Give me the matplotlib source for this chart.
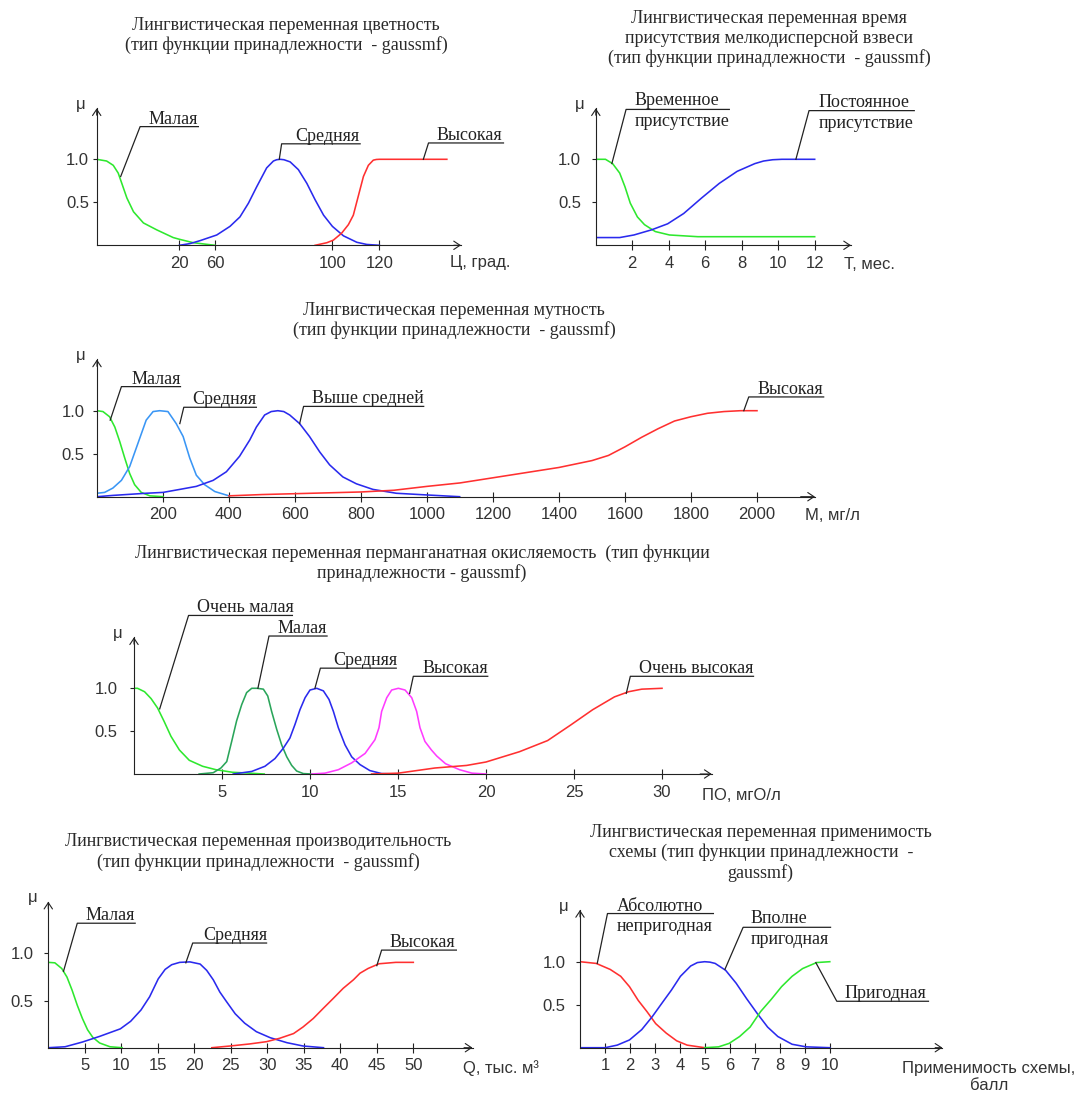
import numpy as np
import matplotlib.pyplot as plt

W, H = 1078, 1093
SERIF = 'Liberation Serif'
SANS = 'Liberation Sans'
INK = '#222222'
GREEN = '#2ee82e'
BLUE = '#2a2aee'
RED = '#ff3030'
LBLUE = '#3a96f5'
DGREEN = '#2aa55a'
MAGENTA = '#ff3cff'

# ---- panel 1: цветность (non-uniform x axis) ----
p1_ticks = [20, 60, 100, 120]
p1_small_x = [0, 2.4, 4.0, 5.2, 6.0, 7.3, 8.9, 11.3, 14.5, 18.5, 20, 35.7, 60]
p1_small_y = [1.0, 0.98, 0.93, 0.84, 0.73, 0.55, 0.39, 0.26, 0.18, 0.09, 0.07, 0.03, 0.0]
p1_mid_x = [20, 32, 43.2, 60.6, 65.1, 68.5, 71.4, 74.2, 77.6, 79.9, 81.0, 82.2, 83.5, 85.6, 88.4,
            91.3, 94.1, 97.0, 100, 104.7, 110.4, 114.6, 120]
p1_mid_y = [0, 0.02, 0.054, 0.12, 0.22, 0.33, 0.49, 0.68, 0.90, 0.98, 0.995, 1.0, 0.995, 0.97, 0.88,
            0.72, 0.53, 0.35, 0.22, 0.11, 0.035, 0.01, 0]
p1_high_x = [94.1, 98.1, 100.4, 103.9, 106.8, 108.9, 111.0, 113.2, 115.3, 117.4, 118.7, 120, 148.7]
p1_high_y = [0, 0.03, 0.06, 0.14, 0.24, 0.35, 0.57, 0.80, 0.93, 0.99, 0.998, 1.0, 1.0]
# value -> pixel offset knots
p1_knot_val = [0, 20, 60, 100, 120, 200]
p1_knot_pos = [0, 82.7, 118.3, 235.7, 282.7, 470.7]

# ---- panel 2: время присутствия ----
p2_ticks = [2, 4, 6, 8, 10, 12]
p2_temp_x = [0, 0.53, 0.92, 1.31, 1.6, 1.89, 2.28, 2.67, 3.26, 4.04, 5.6, 12]
p2_temp_y = [1.0, 1.0, 0.95, 0.84, 0.68, 0.49, 0.33, 0.24, 0.16, 0.12, 0.10, 0.10]
p2_perm_x = [0, 1.31, 2.09, 3.06, 3.94, 4.82, 5.8, 6.77, 7.75, 8.72, 9.2, 9.7, 10.2, 12]
p2_perm_y = [0.09, 0.09, 0.12, 0.18, 0.25, 0.37, 0.55, 0.72, 0.86, 0.95, 0.98, 0.995, 1.0, 1.0]

# ---- panel 3: мутность ----
p3_ticks = [200, 400, 600, 800, 1000, 1200, 1400, 1600, 1800, 2000]
p3_small_x = [0, 18, 38, 54, 69, 84, 99, 114, 134, 160, 200]
p3_small_y = [1.0, 0.99, 0.93, 0.81, 0.64, 0.45, 0.27, 0.14, 0.05, 0.01, 0]
p3_mid_x = [0, 23, 48, 74, 99, 124, 149, 170, 190, 215, 240, 261, 281, 301, 326, 357, 400]
p3_mid_y = [0.04, 0.05, 0.10, 0.19, 0.35, 0.62, 0.89, 0.99, 1.0, 0.99, 0.85, 0.70, 0.45,
            0.25, 0.14, 0.06, 0.01]
p3_above_x = [0, 48, 149, 200, 251, 301, 352, 392, 432, 463, 483, 508, 528, 548, 566, 584, 614,
              644, 675, 705, 745, 786, 836, 907, 1001, 1099]
p3_above_y = [0.0, 0.015, 0.04, 0.05, 0.085, 0.12, 0.19, 0.29, 0.47, 0.66, 0.81, 0.95, 0.99,
              1.0, 0.99, 0.95, 0.85, 0.70, 0.52, 0.37, 0.23, 0.15, 0.085, 0.04, 0.02, 0.0]
p3_high_x = [400, 500, 600, 700, 800, 900, 1000, 1100, 1200, 1300, 1400, 1500, 1550, 1600,
             1650, 1700, 1750, 1800, 1850, 1900, 1950, 2000]
p3_high_y = [0.01, 0.025, 0.035, 0.045, 0.055, 0.075, 0.12, 0.16, 0.22, 0.28, 0.34, 0.42,
             0.48, 0.58, 0.69, 0.79, 0.88, 0.93, 0.97, 0.99, 1.0, 1.0]

# ---- panel 4: перманганатная окисляемость ----
p4_ticks = [5, 10, 15, 20, 25, 30]
p4_vsmall_x = [0, 0.2, 0.6, 0.97, 1.34, 1.72, 2.1, 2.58, 3.14, 3.9, 4.66, 5.6, 6.55, 7.4]
p4_vsmall_y = [1.0, 1.0, 0.96, 0.88, 0.77, 0.61, 0.44, 0.28, 0.16, 0.09, 0.05, 0.02, 0.01, 0.0]
p4_small_x = [3.7, 4.5, 4.94, 5.27, 5.55, 5.83, 6.12, 6.4, 6.69, 7.0, 7.35, 7.6, 7.82, 8.11,
              8.39, 8.68, 8.96, 9.24, 9.62, 10.1]
p4_small_y = [0, 0.015, 0.07, 0.145, 0.38, 0.62, 0.81, 0.95, 1.0, 1.0, 0.99, 0.91, 0.73, 0.52,
              0.34, 0.2, 0.1, 0.035, 0.005, 0]
p4_mid_x = [5.64, 6.69, 7.44, 8.01, 8.48, 8.86, 9.15, 9.43, 9.72, 10.0, 10.38, 10.76, 11.08,
            11.33, 11.61, 11.99, 12.37, 12.84, 13.4, 14.07, 15.0]
p4_mid_y = [0, 0.03, 0.09, 0.18, 0.3, 0.42, 0.58, 0.75, 0.89, 0.98, 1.0, 0.97, 0.87, 0.73,
            0.54, 0.34, 0.2, 0.11, 0.04, 0.005, 0]
p4_high_x = [10.1, 10.85, 11.61, 12.37, 13.13, 13.69, 13.92, 14.07, 14.36, 14.64, 15.02, 15.4,
             15.78, 16.06, 16.25, 16.53, 16.9, 17.2, 17.7, 18.5, 19.2, 20]
p4_high_y = [0, 0.01, 0.05, 0.13, 0.24, 0.4, 0.54, 0.73, 0.89, 0.98, 1.0, 0.98, 0.89, 0.73,
             0.54, 0.38, 0.28, 0.21, 0.12, 0.05, 0.01, 0]
p4_vhigh_x = [13.5, 15.02, 17.1, 18.9, 20, 21.9, 23.5, 24.8, 26.06, 27.3, 28.1, 28.85, 30]
p4_vhigh_y = [0, 0.01, 0.07, 0.1, 0.14, 0.26, 0.39, 0.57, 0.75, 0.90, 0.96, 0.99, 1.0]

# ---- panel 5: производительность ----
p5_ticks = [5, 10, 15, 20, 25, 30, 35, 40, 45, 50]
p5_small_x = [0, 0.9, 1.84, 2.55, 3.26, 3.97, 4.67, 5.38, 6.09, 7.03, 8.45, 10.1]
p5_small_y = [0.905, 0.9, 0.84, 0.75, 0.61, 0.45, 0.31, 0.19, 0.11, 0.05, 0.01, 0]
p5_mid_x = [0, 2.3, 4.67, 7.03, 9.87, 11.28, 12.7, 13.88, 15.06, 16.0, 16.9, 18.0, 19.4, 20.8,
            21.7, 22.6, 23.5, 24.4, 25.6, 26.9, 28.5, 30.4, 32.7, 34.9, 37.7]
p5_mid_y = [0, 0.01, 0.06, 0.12, 0.2, 0.28, 0.4, 0.54, 0.73, 0.83, 0.88, 0.905, 0.91, 0.887,
            0.82, 0.72, 0.59, 0.49, 0.36, 0.26, 0.17, 0.106, 0.053, 0.018, 0]
p5_high_x = [22.4, 24.9, 27.6, 29.9, 31.7, 33.6, 34.9, 36.3, 37.7, 39.0, 40.4, 41.8, 42.7,
             43.8, 45.3, 47.6, 50]
p5_high_y = [0, 0.018, 0.04, 0.064, 0.1, 0.15, 0.22, 0.31, 0.42, 0.52, 0.63, 0.72, 0.79,
             0.84, 0.89, 0.905, 0.905]

# ---- panel 6: применимость схемы ----
p6_ticks = [1, 2, 3, 4, 5, 6, 7, 8, 9, 10]
p6_bad_x = [0, 0.65, 1.21, 1.63, 1.98, 2.33, 2.68, 3.03, 3.45, 3.87, 4.29, 4.99]
p6_bad_y = [1.0, 0.98, 0.91, 0.83, 0.71, 0.55, 0.42, 0.28, 0.17, 0.08, 0.03, 0]
p6_fine_x = [0, 1.0, 1.49, 1.98, 2.47, 2.89, 3.31, 3.66, 4.02, 4.43, 4.7, 4.99, 5.2, 5.41, 5.83,
             6.25, 6.67, 7.09, 7.51, 7.92, 8.49, 9.05, 10]
p6_fine_y = [0, 0.0, 0.03, 0.09, 0.21, 0.36, 0.53, 0.67, 0.83, 0.95, 0.99, 1.0, 0.995, 0.98,
             0.90, 0.75, 0.57, 0.40, 0.24, 0.13, 0.04, 0.01, 0]
p6_good_x = [4.99, 5.55, 5.97, 6.39, 6.81, 7.23, 7.65, 8.07, 8.49, 8.91, 9.47, 10]
p6_good_y = [0, 0.01, 0.05, 0.13, 0.24, 0.42, 0.56, 0.71, 0.83, 0.92, 0.99, 1.0]

fig = plt.figure(figsize=(W / 100, H / 100), dpi=100)


def make_panel(ox, oy, x_end, y_top, xppu, yppu, ticks, ylab_pad, knots=None):
    ax = fig.add_axes([ox / W, 1 - oy / H, (x_end - ox) / W, (oy - y_top) / H])
    if knots is not None:
        vals, pos = knots
        ax.set_xscale('function', functions=(lambda v: np.interp(v, vals, pos),
                                             lambda p: np.interp(p, pos, vals)))
        xmax = np.interp(x_end - ox, pos, vals)
    else:
        xmax = (x_end - ox) / xppu
    ax.set_xlim(0, xmax)
    ax.set_ylim(0, (oy - y_top) / yppu)
    ax.patch.set_alpha(0)
    for s in ('top', 'right'):
        ax.spines[s].set_visible(False)
    for s in ('left', 'bottom'):
        ax.spines[s].set_color(INK)
        ax.spines[s].set_linewidth(0.8)
    ax.set_xticks(ticks)
    ax.set_xticklabels([str(t) for t in ticks])
    ax.set_yticks([0.5, 1.0])
    ax.set_yticklabels(['0.5', '1.0'])
    ax.tick_params(axis='x', direction='inout', length=6.5, width=0.8, color=INK, pad=4.5,
                   labelsize=12, labelcolor='#333333')
    ax.tick_params(axis='y', direction='out', length=3, width=0.8, color=INK, pad=ylab_pad,
                   labelsize=12, labelcolor='#333333')
    for lab in ax.get_xticklabels() + ax.get_yticklabels():
        lab.set_fontfamily(SANS)
    arrow = dict(arrowstyle='->,head_length=0.45,head_width=0.3', color=INK, lw=0.8,
                 shrinkA=0, shrinkB=0)
    ax.annotate('', xy=(1, 0), xytext=(0.98, 0), xycoords='axes fraction', arrowprops=arrow,
                annotation_clip=False)
    ax.annotate('', xy=(0, 1), xytext=(0, 0.95), xycoords='axes fraction', arrowprops=arrow,
                annotation_clip=False)
    ax.annotate('μ', xy=(0, 1), xycoords='axes fraction', xytext=(-16, 4),
                textcoords='offset pixels', ha='center', va='center', fontsize=12,
                fontfamily=SANS, color='#333333', annotation_clip=False)
    return ax


def axis_name(ax, text, dx, dy, va='center'):
    ax.annotate(text, xy=(1, 0), xycoords='axes fraction', xytext=(dx, dy),
                textcoords='offset pixels', ha='left', va=va, multialignment='center',
                fontsize=12, fontfamily=SANS, color='#333333', annotation_clip=False)


def callout(ax, lines, start, corner, x_end, text_x, up=3, down=-17):
    ax.plot([start[0], corner[0], x_end], [start[1], corner[1], corner[1]],
            color=INK, lw=0.9, clip_on=False)
    ax.annotate(lines[0], xy=(text_x, corner[1]), xytext=(0, up), textcoords='offset pixels',
                ha='left', va='baseline', fontsize=13, fontfamily=SERIF, color=INK,
                annotation_clip=False)
    if len(lines) > 1:
        ax.annotate(lines[1], xy=(text_x, corner[1]), xytext=(0, down),
                    textcoords='offset pixels', ha='left', va='baseline', fontsize=13,
                    fontfamily=SERIF, color=INK, annotation_clip=False)


def title(lines, cx, baselines):
    for line, y in zip(lines, baselines):
        fig.text(cx / W, 1 - y / H, line, ha='center', va='baseline', fontsize=13,
                 fontfamily=SERIF, color='#2a2a2a')


LW = 1.15

# panel 1
ax1 = make_panel(96.7, 245.3, 461, 108.3, None, 86, p1_ticks, 2.5,
                 knots=(p1_knot_val, p1_knot_pos))
ax1.plot(p1_small_x, p1_small_y, color=GREEN, lw=LW)
ax1.plot(p1_mid_x, p1_mid_y, color=BLUE, lw=LW)
ax1.plot(p1_high_x, p1_high_y, color=RED, lw=LW)
callout(ax1, ['Малая'], (5.8, 0.80), (10.5, 1.38), 41.3, 12.5)
callout(ax1, ['Средняя'], (81.9, 1.0), (82.7, 1.18), 111.8, 87.2)
callout(ax1, ['Высокая'], (138.7, 1.0), (140.9, 1.19), 172.8, 144.5)
axis_name(ax1, 'Ц, град.', -11, -17)
title(['Лингвистическая переменная цветность',
       '(тип функции принадлежности  - gaussmf)'], 286, [30, 50])

# panel 2
ax2 = make_panel(595.8, 245.3, 851, 108.3, 18.24, 86, p2_ticks, 7.5)
ax2.plot(p2_temp_x, p2_temp_y, color=GREEN, lw=LW)
ax2.plot(p2_perm_x, p2_perm_y, color=BLUE, lw=LW)
callout(ax2, ['Временное', 'присутствие'], (0.88, 0.95), (1.66, 1.58), 7.32, 2.13, up=4)
callout(ax2, ['Постоянное', 'присутствие'], (10.97, 1.0), (11.69, 1.566), 17.46, 12.2, up=4)
axis_name(ax2, 'Т, мес.', -7, -19)
title(['Лингвистическая переменная время',
       'присутствия мелкодисперсной взвеси',
       '(тип функции принадлежности  - gaussmf)'], 769, [23.3, 43.3, 63.3])

# panel 3
ax3 = make_panel(97, 496.7, 815, 359.5, 0.33, 86, p3_ticks, 6)
ax3.plot(p3_small_x, p3_small_y, color=GREEN, lw=LW)
ax3.plot(p3_mid_x, p3_mid_y, color=LBLUE, lw=LW)
ax3.plot(p3_above_x, p3_above_y, color=BLUE, lw=LW)
ax3.plot(p3_high_x, p3_high_y, color=RED, lw=LW)
callout(ax3, ['Малая'], (40, 0.89), (74, 1.28), 253, 104)
callout(ax3, ['Средняя'], (251, 0.85), (263, 1.04), 483, 289)
callout(ax3, ['Выше средней'], (614, 0.85), (626, 1.05), 990, 652)
callout(ax3, ['Высокая'], (1960, 1.0), (1975, 1.16), 2202, 2003)
axis_name(ax3, 'М, мг/л', -10, -19)
title(['Лингвистическая переменная мутность',
       '(тип функции принадлежности  - gaussmf)'], 454, [315, 335])

# panel 4
ax4 = make_panel(134, 774, 711.7, 637.3, 17.6, 85.7, p4_ticks, 9)
ax4.plot(p4_vsmall_x, p4_vsmall_y, color=GREEN, lw=LW)
ax4.plot(p4_small_x, p4_small_y, color=DGREEN, lw=LW)
ax4.plot(p4_mid_x, p4_mid_y, color=BLUE, lw=LW)
ax4.plot(p4_high_x, p4_high_y, color=MAGENTA, lw=LW)
ax4.plot(p4_vhigh_x, p4_vhigh_y, color=RED, lw=LW)
callout(ax4, ['Очень малая'], (1.46, 0.76), (3.1, 1.85), 9.0, 3.6)
callout(ax4, ['Малая'], (7.04, 1.0), (7.67, 1.61), 10.97, 8.18)
callout(ax4, ['Средняя'], (10.28, 1.0), (10.59, 1.235), 14.9, 11.3)
callout(ax4, ['Высокая'], (15.66, 0.94), (15.87, 1.14), 20.1, 16.4)
callout(ax4, ['Очень высокая'], (27.97, 0.94), (28.2, 1.14), 35.2, 28.7)
axis_name(ax4, 'ПО, мгО/л', -10, -21)
title(['Лингвистическая переменная перманганатная окисляемость  (тип функции',
       'принадлежности - gaussmf)'], 422, [558, 578])

# panel 5
ax5 = make_panel(48.3, 1047.7, 472.5, 901.7, 7.3, 94.3, p5_ticks, 7.5)
ax5.plot(p5_small_x, p5_small_y, color=GREEN, lw=LW)
ax5.plot(p5_mid_x, p5_mid_y, color=BLUE, lw=LW)
ax5.plot(p5_high_x, p5_high_y, color=RED, lw=LW)
callout(ax5, ['Малая'], (2.08, 0.81), (3.97, 1.32), 11.9, 5.15)
callout(ax5, ['Средняя'], (18.84, 0.9), (19.78, 1.11), 29.9, 21.2)
callout(ax5, ['Высокая'], (45.0, 0.87), (45.66, 1.035), 55.9, 46.8)
axis_name(ax5, 'Q, тыс. м³', -9, -20)
title(['Лингвистическая переменная производительность',
       '(тип функции принадлежности  - gaussmf)'], 258, [846, 867])

# panel 6
ax6 = make_panel(580, 1047.7, 942.4, 910, 24.98, 86, p6_ticks, 7.5)
ax6.plot(p6_bad_x, p6_bad_y, color=RED, lw=LW)
ax6.plot(p6_fine_x, p6_fine_y, color=BLUE, lw=LW)
ax6.plot(p6_good_x, p6_good_y, color=GREEN, lw=LW)
callout(ax6, ['Абсолютно', 'непригодная'], (0.69, 0.98), (1.1, 1.56), 5.34, 1.46, up=3)
callout(ax6, ['Вполне', 'пригодная'], (5.8, 0.91), (6.53, 1.40), 10.03, 6.84, up=4)
callout(ax6, ['Пригодная'], (9.44, 0.99), (10.28, 0.54), 13.95, 10.59)
axis_name(ax6, 'Применимость схемы,\nбалл', -40, -13, va='top')
title(['Лингвистическая переменная применимость',
       'схемы (тип функции принадлежности  -',
       'gaussmf)'], 760.7, [837, 857, 878])

fig.savefig('out.png', dpi=100)
